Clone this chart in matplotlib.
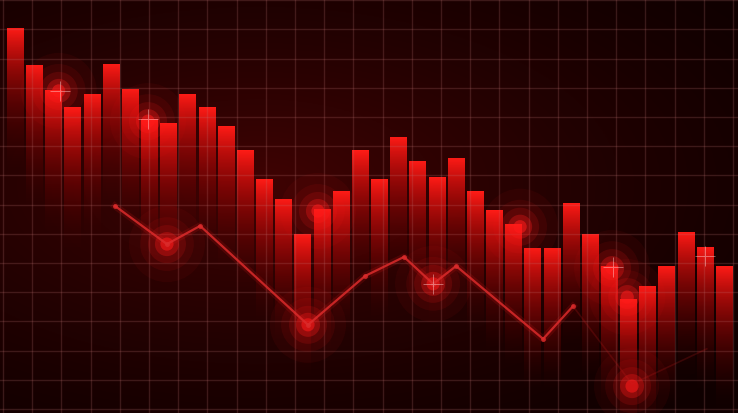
import numpy as np
import matplotlib
matplotlib.use("Agg")
import matplotlib.pyplot as plt
from matplotlib.ticker import FixedLocator

# bar heights (index 0..37), value scale 0..100
bar_values = [93.0, 84.1, 78.0, 73.9, 77.1, 84.3, 78.3, 71.0, 70.0, 77.1,
              73.9, 69.3, 63.5, 56.5, 51.7, 43.2, 49.3, 53.6, 63.5, 56.5,
              66.7, 60.9, 57.0, 61.6, 53.6, 49.0, 45.7, 39.9, 39.9, 50.7,
              43.2, 35.5, 27.5, 30.7, 35.5, 43.7, 40.1, 35.5]

# trend line vertices
line_x = [5.22, 7.93, 9.66, 15.29, 18.27, 20.30, 21.82, 23.02, 27.56, 29.12]
line_y = [50.0, 40.8, 45.2, 21.3, 33.1, 37.7, 31.2, 35.5, 17.9, 25.8]
tail_x = [29.12, 32.2, 36.1]
tail_y = [25.8, 7.0, 15.5]

# glowing spots
glow_x = [2.28, 6.94, 7.93, 15.29, 15.81, 21.82, 26.36, 31.16, 31.95, 32.2]
glow_y = [77.8, 70.5, 40.8, 21.3, 48.8, 31.2, 45.0, 35.0, 28.0, 6.5]
spark_x = [2.35, 6.94, 21.82, 36.0, 31.2]
spark_y = [77.8, 71.0, 31.2, 37.9, 35.3]

BG = (0.08, 0.0, 0.0)

fig = plt.figure(figsize=(7.38, 4.14), dpi=100)
ax = fig.add_axes([0, 0, 1, 1])
xlim = (-0.783, 37.73)
ylim = (0, 100)
ax.set_xlim(*xlim)
ax.set_ylim(*ylim)

# background: dark red with soft centre
gx, gy = np.meshgrid(np.linspace(0, 1, 300), np.linspace(0, 1, 200))
r = np.sqrt(((gx - 0.35) / 0.85) ** 2 + ((gy - 0.55) / 0.75) ** 2)
k = np.clip(1 - r, 0, 1) ** 1.3
bg = np.zeros((200, 300, 3))
bg[..., 0] = 0.06 + 0.19 * k
bg[..., 1] = 0.0 + 0.012 * k
bg[..., 2] = 0.0 + 0.012 * k
ax.imshow(bg, extent=[*xlim, *ylim], origin="lower", aspect="auto", zorder=0)

# bars with vertical gradient
bars = ax.bar(range(len(bar_values)), bar_values, width=0.84, color="none",
              edgecolor="none", zorder=2)
fade = 36.0
for b, top in zip(bars, bar_values):
    x0 = b.get_x()
    w = b.get_width()
    yy = np.linspace(0, top, 200)
    t = np.clip(1 - (top - yy) / fade, 0, 1)
    img = np.zeros((200, 1, 4))
    img[:, 0, 0] = 0.55 + 0.45 * t
    img[:, 0, 1] = 0.02 + 0.09 * t ** 3
    img[:, 0, 2] = 0.02 + 0.07 * t ** 3
    img[:, 0, 3] = t ** 1.6
    im = ax.imshow(img, extent=[x0, x0 + w, 0, top], origin="lower",
                   aspect="auto", zorder=2, interpolation="bilinear")
    im.set_clip_path(b)

# grid
vx = -0.626 + 1.524 * np.arange(-1, 27)
hy = 0.97 + 7.053 * np.arange(0, 15)
ax.xaxis.set_major_locator(FixedLocator(vx))
ax.yaxis.set_major_locator(FixedLocator(hy))
ax.grid(True, color=(0.75, 0.45, 0.45), alpha=0.22, linewidth=1.0, zorder=3)
ax.set_axisbelow(False)
ax.tick_params(length=0, labelbottom=False, labelleft=False)
for s in ax.spines.values():
    s.set_visible(False)

# glows
for size, a in [(3000, 0.05), (1500, 0.08), (750, 0.14), (300, 0.3), (90, 0.55)]:
    ax.scatter(glow_x, glow_y, s=size, color=(1.0, 0.1, 0.1), alpha=a,
               edgecolors="none", zorder=4)

# trend line
ax.plot(line_x, line_y, color=(0.9, 0.1, 0.1), lw=5, alpha=0.15, zorder=5)
ax.plot(line_x, line_y, color=(0.86, 0.17, 0.17), lw=1.6, alpha=0.85, zorder=5,
        marker="o", ms=3.5, mec="none")
ax.plot(tail_x, tail_y, color=(0.8, 0.12, 0.12), lw=1.2, alpha=0.2, zorder=5)

# sparkles
ax.scatter(spark_x, spark_y, s=200, marker="+", color=(1.0, 0.85, 0.85),
           linewidths=0.7, alpha=0.45, zorder=6)

fig.savefig("out.png", dpi=100, facecolor=BG)
